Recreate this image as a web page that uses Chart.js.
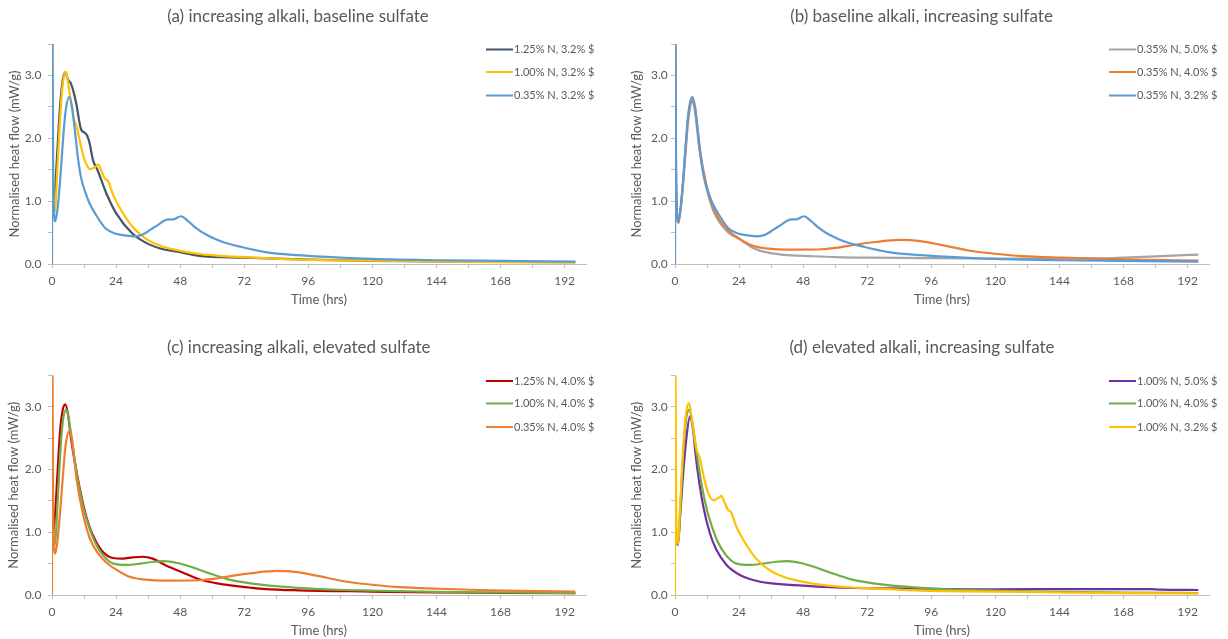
<!DOCTYPE html>
<html><head><meta charset="utf-8">
<script src="https://cdn.jsdelivr.net/npm/chart.js@4.4.0/dist/chart.umd.min.js"></script>
<style>
html,body{margin:0;padding:0;background:#fff;}
#wrap{position:relative;width:1228px;height:639px;overflow:hidden;background:#fff;}
canvas{position:absolute;}
</style></head><body>
<div id="wrap">
<canvas id="ca" width="614" height="308" style="left:0px;top:0px"></canvas>
<canvas id="cb" width="614" height="308" style="left:614px;top:0px"></canvas>
<canvas id="cc" width="614" height="308" style="left:0px;top:331px"></canvas>
<canvas id="cd" width="614" height="308" style="left:614px;top:331px"></canvas>
</div>
<script>
// ---- axis ticks ----
const xTickLabels = [0, 24, 48, 72, 96, 120, 144, 168, 192];
const yTickLabels = [0, 1, 2, 3];

// ---- series (time in hrs, normalised heat flow in mW/g) ----
const t_N125_S32 = [0.3, 1, 2, 3, 4, 5, 6, 7, 8, 9.1, 10.9, 12.2, 13.2, 14.2, 15.3, 17, 20.3, 24, 30, 36, 42, 48, 55, 72, 96, 120, 144, 168, 196];
const q_N125_S32 = [0.9, 1.1, 1.8, 2.5, 2.92, 3.05, 2.93, 2.88, 2.75, 2.55, 2.14, 2.09, 2.04, 1.9, 1.66, 1.5, 1.13, 0.81, 0.49, 0.32, 0.23, 0.19, 0.13, 0.10, 0.07, 0.05, 0.04, 0.035, 0.03];

const t_N100_S32 = [0, 0.08, 0.45, 1, 2, 3, 4, 5.2, 6.1, 7, 8.1, 9.3, 10.7, 12.5, 14.4, 16.3, 17.3, 18.6, 19.8, 21, 22.9, 25.3, 30, 36, 42, 48, 55, 66, 72, 92, 120, 144, 168, 196];
const q_N100_S32 = [0, 4.5, 1.3, 0.82, 1.5, 2.3, 2.85, 3.06, 2.87, 2.6, 2.32, 2.18, 1.9, 1.62, 1.51, 1.55, 1.58, 1.47, 1.36, 1.32, 1.1, 0.9, 0.6, 0.38, 0.27, 0.21, 0.16, 0.12, 0.11, 0.07, 0.055, 0.04, 0.03, 0.025];

const t_N035_S32 = [0, 0.08, 0.4, 1.2, 2, 3, 4, 5, 6.5, 7.5, 8.5, 9.8, 11, 12.5, 14, 16.5, 20, 24, 28, 31, 34, 37, 40, 42.5, 44, 45.5, 48.3, 51, 54, 58, 64, 71, 80, 92, 108, 120, 144, 168, 196];
const q_N035_S32 = [0, 4.5, 1.5, 0.68, 0.85, 1.3, 1.9, 2.4, 2.66, 2.5, 2.15, 1.66, 1.35, 1.14, 0.97, 0.78, 0.57, 0.48, 0.45, 0.44, 0.47, 0.55, 0.63, 0.70, 0.71, 0.71, 0.76, 0.68, 0.57, 0.46, 0.35, 0.27, 0.19, 0.14, 0.1, 0.08, 0.06, 0.05, 0.038];

const t_N035_S50 = [0.15, 0.6, 1.3, 2, 3, 4, 5, 6.5, 7.5, 9.2, 11.7, 14.2, 16.7, 20, 24, 29, 35, 42, 48, 60, 72, 92, 110, 120, 144, 160, 168, 180, 196];
const q_N035_S50 = [1.0, 0.78, 0.65, 0.83, 1.25, 1.8, 2.3, 2.58, 2.42, 1.8, 1.22, 0.86, 0.66, 0.5, 0.4, 0.26, 0.18, 0.14, 0.13, 0.11, 0.10, 0.095, 0.09, 0.085, 0.09, 0.09, 0.10, 0.12, 0.15];

const t_N035_S40 = [0, 0.08, 0.4, 1.2, 2, 3, 4, 5, 6.6, 7.6, 9.2, 11.7, 14.2, 16.7, 20, 23.5, 28.5, 34, 45, 55, 61, 68, 75, 84, 92, 100, 110, 120, 130, 145, 160, 175, 196];
const q_N035_S40 = [0, 4.5, 1.5, 0.66, 0.85, 1.3, 1.85, 2.35, 2.62, 2.45, 1.85, 1.27, 0.9, 0.7, 0.53, 0.42, 0.3, 0.25, 0.23, 0.235, 0.26, 0.31, 0.35, 0.385, 0.365, 0.3, 0.215, 0.163, 0.125, 0.1, 0.08, 0.065, 0.055];

const t_N125_S40 = [0.3, 1, 2, 3, 4, 5, 6, 7.2, 9.1, 11.6, 14, 16.5, 19, 22.8, 26.5, 30.2, 34, 37.7, 42.7, 48.9, 55.1, 61.3, 67.5, 73.8, 80, 92, 120, 144, 168, 196];
const q_N125_S40 = [0.95, 1.2, 1.9, 2.6, 2.95, 3.04, 2.88, 2.47, 1.99, 1.46, 1.09, 0.85, 0.69, 0.59, 0.58, 0.60, 0.61, 0.58, 0.47, 0.36, 0.25, 0.19, 0.15, 0.12, 0.095, 0.075, 0.055, 0.04, 0.035, 0.03];

const t_N100_S40 = [0.4, 1.1, 2, 3, 4, 5.4, 6.5, 8, 10, 12, 14, 16, 19, 23, 28, 33, 38, 42, 47, 52, 58, 66, 79, 92, 110, 120, 144, 168, 196];
const q_N100_S40 = [0.85, 0.8, 1.4, 2.2, 2.75, 2.96, 2.75, 2.3, 1.75, 1.35, 1.07, 0.85, 0.64, 0.5, 0.48, 0.5, 0.53, 0.54, 0.51, 0.45, 0.36, 0.25, 0.16, 0.115, 0.08, 0.07, 0.05, 0.04, 0.03];

const t_N100_S50 = [0.3, 1.1, 2, 3, 4.4, 5.6, 6.6, 8.1, 10.6, 13.1, 15.5, 19.3, 24.3, 29.2, 35.4, 47.9, 60.3, 79, 96, 120, 150, 168, 178, 182, 196];
const q_N100_S50 = [0.9, 0.8, 1.3, 1.9, 2.55, 2.85, 2.68, 2.1, 1.41, 0.98, 0.72, 0.48, 0.32, 0.24, 0.19, 0.15, 0.12, 0.105, 0.1, 0.09, 0.095, 0.095, 0.095, 0.085, 0.08];

// ---- panel titles & legend labels ----
const titles = [
  '(a) increasing alkali, baseline sulfate',
  '(b) baseline alkali, increasing sulfate',
  '(c) increasing alkali, elevated sulfate',
  '(d) elevated alkali, increasing sulfate'
];
const labelsA = ['1.25% N, 3.2% $', '1.00% N, 3.2% $', '0.35% N, 3.2% $'];
const labelsB = ['0.35% N, 5.0% $', '0.35% N, 4.0% $', '0.35% N, 3.2% $'];
const labelsC = ['1.25% N, 4.0% $', '1.00% N, 4.0% $', '0.35% N, 4.0% $'];
const labelsD = ['1.00% N, 5.0% $', '1.00% N, 4.0% $', '1.00% N, 3.2% $'];

const C_DARK = '#44546a', C_YEL = '#ffc000', C_BLUE = '#5b9bd5', C_GRAY = '#a5a5a5',
      C_ORG = '#ed7d31', C_RED = '#c00000', C_GRN = '#70ad47', C_PUR = '#7030a0';

const FAM = 'Lato, "Open Sans", "DejaVu Sans", sans-serif';
const TXT = '#595959';
const AX = '#bfbfbf';

function makeDecor(info) {
  return {
    id: 'panelDecor',
    afterDraw(chart) {
      const ctx = chart.ctx, ca = chart.chartArea;
      ctx.save();
      ctx.fillStyle = TXT;
      ctx.font = '17px ' + FAM;
      ctx.textAlign = 'center';
      ctx.textBaseline = 'middle';
      ctx.fillText(info.title, info.titleX, info.titleY);
      ctx.font = '11px ' + FAM;
      ctx.textAlign = 'left';
      const rows = [5.5, 28, 51.5];
      chart.data.datasets.forEach((ds, i) => {
        const y = ca.top + rows[i];
        const x0 = ca.right - 100;
        ctx.strokeStyle = ds.borderColor;
        ctx.lineWidth = 2;
        ctx.beginPath();
        ctx.moveTo(x0, y);
        ctx.lineTo(x0 + 27, y);
        ctx.stroke();
        ctx.fillText(ds.label, x0 + 28, y);
      });
      ctx.restore();
    }
  };
}

function makePanel(id, cfg) {
  const n = cfg.series.length;
  new Chart(document.getElementById(id), {
    type: 'line',
    data: {
      datasets: cfg.series.map((s, i) => ({
        label: s.label,
        data: s.t.map((x, k) => ({ x: x, y: s.q[k] })),
        borderColor: s.color,
        backgroundColor: s.color,
        borderWidth: 2.2,
        pointRadius: 0,
        fill: false,
        cubicInterpolationMode: 'monotone',
        order: n - i
      }))
    },
    options: {
      responsive: false,
      animation: false,
      events: [],
      layout: { padding: { top: cfg.padTop, right: cfg.padRight, left: 0, bottom: 0 } },
      plugins: { legend: { display: false }, tooltip: { enabled: false }, title: { display: false } },
      scales: {
        x: {
          type: 'linear', min: 0, max: 200,
          afterFit: s => { s.height = 44; },
          ticks: {
            stepSize: 12, includeBounds: false, autoSkip: false, maxRotation: 0, minRotation: 0,
            padding: 6, color: TXT, font: { family: FAM, size: 12 },
            callback: v => xTickLabels.includes(v) ? String(v) : ''
          },
          grid: { display: true, drawOnChartArea: false, drawTicks: true, tickLength: 4, color: AX },
          border: { display: true, color: AX, width: 1 },
          title: { display: true, text: 'Time (hrs)', color: TXT, font: { family: FAM, size: 13 }, padding: { top: 0, bottom: 0 } }
        },
        y: {
          type: 'linear', min: 0, max: 3.5,
          afterFit: s => { s.width = cfg.yW; },
          ticks: {
            stepSize: 0.5, autoSkip: false, padding: cfg.yPad, color: TXT, font: { family: FAM, size: 12 },
            callback: v => yTickLabels.includes(v) ? v.toFixed(1) : ''
          },
          grid: { display: true, drawOnChartArea: false, drawTicks: true, tickLength: 4, color: AX },
          border: { display: true, color: AX, width: 1 },
          title: { display: true, text: 'Normalised heat flow (mW/g)', color: TXT, font: { family: FAM, size: 13 }, padding: { top: cfg.yTitlePad, bottom: 0 } }
        }
      }
    },
    plugins: [makeDecor(cfg)]
  });
}

makePanel('ca', {
  title: titles[0], titleX: 298, titleY: 17, padTop: 44, padRight: 28, yW: 52, yPad: 6.6, yTitlePad: 7.2,
  series: [
    { label: labelsA[0], t: t_N125_S32, q: q_N125_S32, color: C_DARK },
    { label: labelsA[1], t: t_N100_S32, q: q_N100_S32, color: C_YEL },
    { label: labelsA[2], t: t_N035_S32, q: q_N035_S32, color: C_BLUE }
  ]
});
makePanel('cb', {
  title: titles[1], titleX: 307.5, titleY: 17, padTop: 44, padRight: 19, yW: 61, yPad: 3.3, yTitlePad: 14.9,
  series: [
    { label: labelsB[0], t: t_N035_S50, q: q_N035_S50, color: C_GRAY },
    { label: labelsB[1], t: t_N035_S40, q: q_N035_S40, color: C_ORG },
    { label: labelsB[2], t: t_N035_S32, q: q_N035_S32, color: C_BLUE }
  ]
});
makePanel('cc', {
  title: titles[2], titleX: 298.8, titleY: 16.7, padTop: 44.5, padRight: 28, yW: 52, yPad: 6.6, yTitlePad: 6.2,
  series: [
    { label: labelsC[0], t: t_N125_S40, q: q_N125_S40, color: C_RED },
    { label: labelsC[1], t: t_N100_S40, q: q_N100_S40, color: C_GRN },
    { label: labelsC[2], t: t_N035_S40, q: q_N035_S40, color: C_ORG }
  ]
});
makePanel('cd', {
  title: titles[3], titleX: 308, titleY: 16.3, padTop: 44.5, padRight: 19, yW: 61, yPad: 3.3, yTitlePad: 14.9,
  series: [
    { label: labelsD[0], t: t_N100_S50, q: q_N100_S50, color: C_PUR },
    { label: labelsD[1], t: t_N100_S40, q: q_N100_S40, color: C_GRN },
    { label: labelsD[2], t: t_N100_S32, q: q_N100_S32, color: C_YEL }
  ]
});
</script>
</body></html>
